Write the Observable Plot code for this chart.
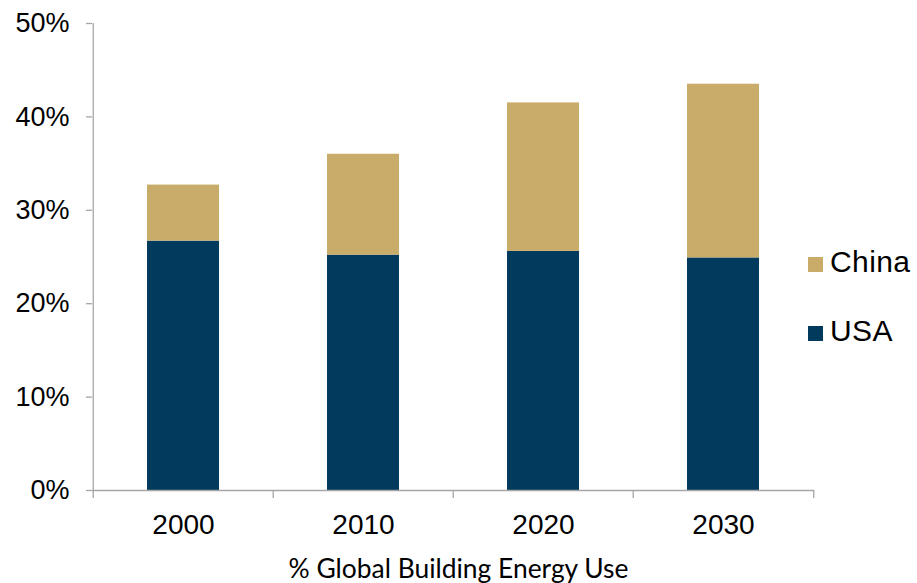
<!DOCTYPE html>
<html>
<head>
<meta charset="utf-8">
<script src="https://cdn.jsdelivr.net/npm/d3@7"></script>
<script src="https://cdn.jsdelivr.net/npm/@observablehq/plot@0.6"></script>
<style>
  html, body { margin: 0; padding: 0; background: #fff; }
  #wrap { position: relative; width: 917px; height: 583px; overflow: hidden; }
  #caption { margin-top: 8px; width: 917px; text-align: center; font-family: Lato, "Open Sans", sans-serif; font-size: 26.4px; line-height: 30px; color: #000; }
  .lg-sw { position: absolute; width: 15px; height: 15px; }
  .lg-tx { position: absolute; font-family: "Liberation Sans", Arial, sans-serif; font-size: 30px; line-height: 30px; letter-spacing: 0.4px; color: #000; white-space: nowrap; }
</style>
</head>
<body>
<div id="wrap"></div>
<script>
// ---- data ----
const years = ["2000", "2010", "2020", "2030"];
const usa = [26.7, 25.2, 25.6, 24.9];
const china = [6.0, 10.8, 15.9, 18.6];
const series = ["USA", "China"];
const seriesColors = ["#003A5C", "#C9AC6A"];
const yTicks = [0, 10, 20, 30, 40, 50];
const captionText = "% Global Building Energy Use";

// ---- layout ----
const W = 917, H = 545;
const mL = 92, mR = 103, mT = 23, mB = 55;
const padInner = 0.6, padOuter = 0.3;
const step = (W - mL - mR) / (years.length - padInner + 2 * padOuter);
const axisColor = "#a6a6a6";

const values = {USA: usa, China: china};
const data = years.flatMap((yr, i) => series.map(s => ({year: yr, series: s, value: values[s][i]})));

const chart = Plot.plot({
  width: W, height: H,
  marginLeft: mL, marginRight: mR, marginTop: mT, marginBottom: mB,
  style: {fontFamily: "'Liberation Sans', Arial, sans-serif", fontSize: "27px", color: "#000", background: "#fff", overflow: "visible"},
  x: {domain: years, paddingInner: padInner, paddingOuter: padOuter, label: null},
  y: {domain: [0, 50], label: null},
  color: {domain: series, range: seriesColors},
  marks: [
    Plot.barY(data, {x: "year", y: "value", fill: "series"}),
    // y axis line
    Plot.ruleX([years[0]], {x: d => d, y1: yTicks[0], y2: yTicks[yTicks.length - 1], dx: -step / 2, stroke: axisColor, strokeWidth: 1.3}),
    // x axis line
    Plot.ruleY([0], {stroke: axisColor, strokeWidth: 1.3}),
    // x boundary ticks
    Plot.ruleX(years, {x: d => d, y1: 0, y2: 0, insetBottom: -8, dx: -step / 2, stroke: axisColor, strokeWidth: 1.3}),
    Plot.ruleX([years[years.length - 1]], {x: d => d, y1: 0, y2: 0, insetBottom: -8, dx: step / 2, stroke: axisColor, strokeWidth: 1.3}),
    Plot.axisY({ticks: yTicks, tickFormat: d => d + "%", tickSize: 6, tickPadding: 17, stroke: axisColor, strokeWidth: 1.3, fill: "#000", fontSize: 27}),
    Plot.axisX({tickSize: 0, tickPadding: 24, fill: "#000", fontSize: 28})
  ]
});

const wrap = document.getElementById("wrap");
wrap.appendChild(chart);

// legend (top to bottom: China, USA)
const legendOrder = [...series].reverse();
const legendBaselines = [272.5, 341];
legendOrder.forEach((s, k) => {
  const col = seriesColors[series.indexOf(s)];
  const sw = document.createElement("div");
  sw.className = "lg-sw";
  sw.style.left = "808px";
  sw.style.top = (legendBaselines[k] - 15.5) + "px";
  sw.style.background = col;
  wrap.appendChild(sw);
  const tx = document.createElement("div");
  tx.className = "lg-tx";
  tx.style.left = "830px";
  tx.style.top = (legendBaselines[k] - 25.4) + "px";
  tx.textContent = s;
  wrap.appendChild(tx);
});

const cap = document.createElement("div");
cap.id = "caption";
cap.textContent = captionText;
wrap.appendChild(cap);
</script>
</body>
</html>
